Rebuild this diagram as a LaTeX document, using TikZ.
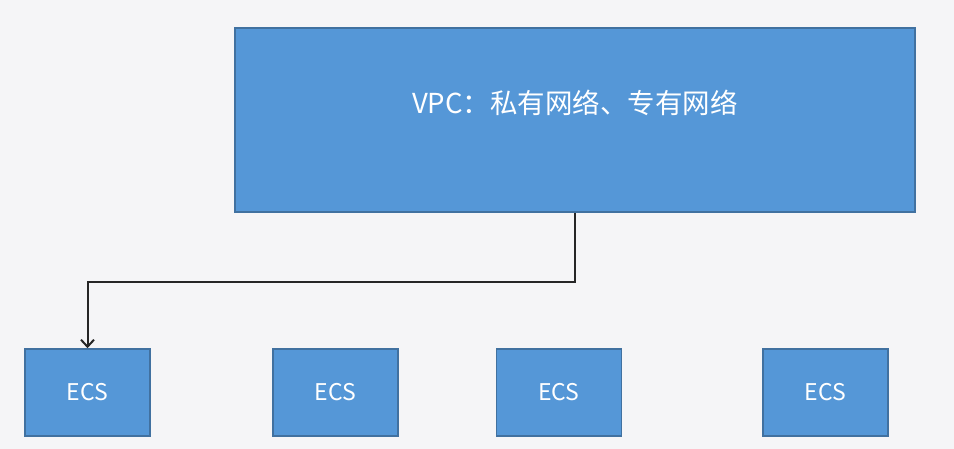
\documentclass[tikz,border=0pt]{standalone}
\usepackage{fontspec}
\setmainfont{Noto Sans CJK SC}
\usepackage{tikz}
\usetikzlibrary{positioning, arrows.meta, calc}
\definecolor{boxblue}{RGB}{85,151,215}
\definecolor{boxedge}{RGB}{65,113,160}
\definecolor{slide}{RGB}{245,245,247}
\tikzset{
box/.style={shape=rectangle, draw=boxedge, line width=1.6pt, fill=boxblue, inner sep=0, text=white}, vpcbox/.style={box, minimum width=680pt, minimum height=184pt}, ecsbox/.style={box, minimum width=125pt, minimum height=87pt, font=\fontsize{23}{26}\selectfont}}

\begin{document}
\begin{tikzpicture}[x=1pt, y=1pt]
\fill [slide] (0,0) rectangle (954,449);
\useasboundingbox (0,0) rectangle (954,449);
\node [vpcbox] at (575, 329) (vpc) {};
\node [text=white, font=\fontsize{27.5}{31}\selectfont] at (575, 346) (vpc-text) {VPC：私有网络、专有网络};
\foreach \xpos [count=\j] in {87.5, 335.5, 559, 825.5}{
      \node [ecsbox] at (\xpos, 56.5) (ecs-\j) {ECS};
}
\draw [-{Straight Barb[length=7pt, width=13pt, line width=2pt]}, line width=2pt, black!85] (vpc.south) -- ++(0,-69) -| (ecs-1.north);
\end{tikzpicture}
\end{document}
